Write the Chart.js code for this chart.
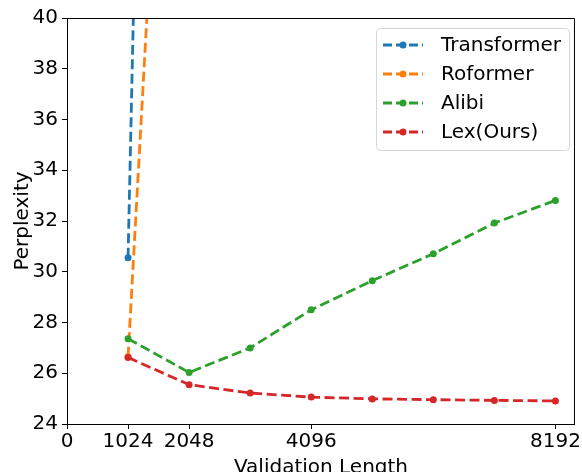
<!DOCTYPE html>
<html>
<head>
    <title>Perplexity vs Validation Length</title>
    <script src="https://cdn.jsdelivr.net/npm/chart.js@4.4.1/dist/chart.umd.min.js"></script>
    <style>
        body { margin: 0; background: #fff; }
        #wrap { width: 582px; height: 472px; }
    </style>
</head>
<body>
    <div id="wrap"><canvas id="ppl" width="582" height="472"></canvas></div>

    <script>
        // data
        const lengths = [1024, 2048, 3072, 4096, 5120, 6144, 7168, 8192];
        const xTicks = [0, 1024, 2048, 4096, 8192];
        const transformer = [30.55, 140];
        const roformer = [26.65, 70];
        const alibi = [27.36, 26.03, 27.0, 28.5, 29.65, 30.71, 31.92, 32.81];
        const lex = [26.62, 25.55, 25.22, 25.06, 24.99, 24.96, 24.93, 24.91];

        const names = ['Transformer', 'Roformer', 'Alibi', 'Lex(Ours)'];
        const colors = ['#1f77b4', '#ff7f0e', '#2ca02c', '#d62728'];
        const series = [transformer, roformer, alibi, lex];

        const FONT = 'DejaVu Sans';
        Chart.defaults.font.family = FONT;
        Chart.defaults.color = '#000';

        function toPoints(vals) {
            return vals.map((v, i) => ({ x: lengths[i], y: v }));
        }

        // top/right spines + legend box inside the plot
        const frame = {
            id: 'frame',
            afterDatasetsDraw(chart) {
                const { ctx, chartArea: a } = chart;
                ctx.save();
                ctx.strokeStyle = '#000';
                ctx.lineWidth = 1;
                ctx.beginPath();
                ctx.moveTo(a.left, a.top + 0.5);
                ctx.lineTo(a.right - 0.5, a.top + 0.5);
                ctx.lineTo(a.right - 0.5, a.bottom);
                ctx.stroke();

                // legend
                const bx = 376, by = 28, bw = 193, bh = 122;
                ctx.fillStyle = 'rgba(255,255,255,0.8)';
                ctx.strokeStyle = '#d6d6d6';
                ctx.beginPath();
                ctx.roundRect(bx + 0.5, by + 0.5, bw, bh, 4);
                ctx.fill();
                ctx.stroke();
                ctx.font = '20px "' + FONT + '"';
                ctx.textBaseline = 'middle';
                names.forEach((n, i) => {
                    const yy = 45 + i * 29;
                    ctx.strokeStyle = colors[i];
                    ctx.lineWidth = 2.8;
                    ctx.setLineDash([9, 4]);
                    ctx.beginPath();
                    ctx.moveTo(383, yy);
                    ctx.lineTo(423, yy);
                    ctx.stroke();
                    ctx.setLineDash([]);
                    ctx.fillStyle = colors[i];
                    ctx.beginPath();
                    ctx.arc(403, yy, 3.5, 0, Math.PI * 2);
                    ctx.fill();
                    ctx.fillStyle = '#000';
                    ctx.fillText(n, 441, yy + 1);
                });
                ctx.restore();
            }
        };

        new Chart(document.getElementById('ppl'), {
            type: 'line',
            data: {
                datasets: series.map((s, i) => ({
                    label: names[i],
                    data: toPoints(s),
                    borderColor: colors[i],
                    backgroundColor: colors[i],
                    borderWidth: 2.8,
                    borderDash: [10, 4.5],
                    pointRadius: 3.5,
                    pointBorderWidth: 0,
                    pointHoverRadius: 3.5,
                    tension: 0,
                    order: 3 - i
                }))
            },
            options: {
                responsive: false,
                animation: false,
                devicePixelRatio: 1,
                layout: { padding: { top: 18, right: 1, left: 0, bottom: 0 } },
                plugins: {
                    legend: { display: false },
                    tooltip: { enabled: false }
                },
                scales: {
                    x: {
                        type: 'linear',
                        min: 0,
                        max: 8520,
                        afterBuildTicks: s => { s.ticks = xTicks.map(v => ({ value: v })); },
                        afterFit: s => { s.height = 48; },
                        grid: { drawOnChartArea: false, tickLength: 5, color: '#000' },
                        border: { color: '#000', width: 1 },
                        ticks: { font: { size: 20 }, padding: 1, maxRotation: 0, autoSkip: false,
                                 callback: v => String(v) },
                        title: { display: true, text: 'Validation Length',
                                 font: { size: 20, lineHeight: 1 }, padding: { top: 0, bottom: -6 } }
                    },
                    y: {
                        min: 24,
                        max: 40,
                        afterFit: s => { s.width = 67; },
                        grid: { drawOnChartArea: false, tickLength: 5, color: '#000' },
                        border: { color: '#000', width: 1 },
                        ticks: { stepSize: 2, font: { size: 20 }, padding: 4 },
                        title: { display: true, text: 'Perplexity',
                                 font: { size: 20, lineHeight: 1 }, padding: { top: 13, bottom: 0 } }
                    }
                }
            },
            plugins: [frame]
        });
    </script>
</body>
</html>
